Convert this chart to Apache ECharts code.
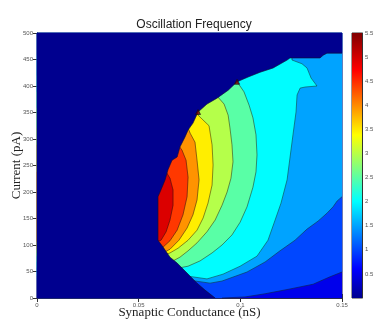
<!DOCTYPE html>
<html>
<head>
<meta charset="utf-8">
<script src="https://cdn.jsdelivr.net/npm/echarts@6/dist/echarts.min.js"></script>
<style>
    html, body { margin: 0; padding: 0; background: #fff; }
    #chart { width: 374px; height: 323px; }
</style>
</head>
<body>
<div id="chart"></div>
<script>
// contour lines, points are [conductance (nS), current (pA)]
const outerEdge = [
    [0.150, 462], [0.1426, 462], [0.1407, 458], [0.1392, 453], [0.1244, 453], [0.1230, 449],
    [0.1161, 434], [0.1097, 426], [0.1038, 417], [0.0984, 408], [0.0940, 392], [0.0885, 377],
    [0.0836, 366], [0.0792, 351], [0.0767, 330], [0.0743, 317], [0.0728, 304], [0.0703, 285],
    [0.0689, 266], [0.0664, 260], [0.0644, 242], [0.0630, 223], [0.0615, 209], [0.0595, 191],
    [0.0595, 109], [0.0620, 96], [0.0654, 77], [0.0689, 66], [0.0738, 47], [0.0787, 28],
    [0.0826, 15], [0.0876, 0],
]
const contour10 = [[0.0910, 0], [0.1023, 2], [0.1122, 8], [0.1244, 17], [0.1358, 26], [0.1441, 40], [0.150, 49]]
const contour15 = [
    [0.0743, 34], [0.0851, 28], [0.0910, 32], [0.1033, 49], [0.1122, 68], [0.1195, 89], [0.1269, 109],
    [0.1328, 130], [0.1382, 145], [0.1426, 160], [0.1456, 172], [0.1476, 183], [0.150, 191],
]
const contour20 = [
    [0.1254, 458], [0.1254, 449], [0.1303, 442], [0.1328, 434], [0.1348, 415], [0.1377, 400], [0.1318, 398],
    [0.1294, 396], [0.1279, 383], [0.1274, 351], [0.1259, 308], [0.1244, 264], [0.1230, 223], [0.1200, 179],
    [0.1171, 147], [0.1136, 109], [0.1082, 79], [0.0999, 60], [0.0915, 45], [0.0836, 36], [0.0728, 42],
]
const contour25 = [
    [0.0970, 420], [0.0984, 408], [0.1018, 389], [0.1043, 364], [0.1062, 340], [0.1077, 308], [0.1082, 270],
    [0.1077, 238], [0.1062, 209], [0.1033, 172], [0.0999, 143], [0.0959, 119], [0.0910, 100], [0.0861, 85],
    [0.0802, 70], [0.0743, 60], [0.0703, 57], [0.0664, 57],
]
const contour30 = [
    [0.0876, 389], [0.0890, 379], [0.0920, 366], [0.0940, 345], [0.0949, 321], [0.0959, 289], [0.0964, 257],
    [0.0954, 226], [0.0935, 200], [0.0910, 175], [0.0876, 147], [0.0836, 125], [0.0787, 104], [0.0743, 89],
    [0.0703, 77], [0.0669, 70], [0.0630, 68],
]
const contour35 = [
    [0.0782, 359], [0.0792, 345], [0.0846, 325], [0.0861, 289], [0.0866, 251], [0.0861, 213], [0.0841, 179],
    [0.0817, 151], [0.0787, 128], [0.0743, 109], [0.0694, 94], [0.0654, 85], [0.0615, 79],
]
const contour40 = [
    [0.0743, 321], [0.0753, 311], [0.0777, 294], [0.0787, 260], [0.0797, 223], [0.0787, 185], [0.0767, 157],
    [0.0738, 132], [0.0698, 109], [0.0654, 92], [0.0620, 85],
]
const contour45 = [
    [0.0694, 289], [0.0713, 279], [0.0733, 260], [0.0743, 228], [0.0738, 191], [0.0718, 157], [0.0689, 128],
    [0.0654, 108], [0.0620, 96], [0.0590, 92],
]
const contour50 = [
    [0.0635, 238], [0.0654, 226], [0.0669, 204], [0.0669, 175], [0.0654, 147], [0.0635, 125], [0.0610, 109],
    [0.0585, 106],
]
// little dark spikes on the upper edge
const spikes = [[0.0984, 408], [0.0792, 351]]

const xRange = [0, 0.15]
const yRange = [0, 500]
const colorRange = [0, 5.5]

const levelLines = [contour10, contour15, contour20, contour25, contour30, contour35, contour40, contour45, contour50]
// jet colours at levels 0.5 .. 5.0
const levelColors = ['#0000EB', '#0047FF', '#00A3FF', '#00FDFF', '#59FFA6', '#B5FF4A', '#FFEE00', '#FF9300', '#FF3800', '#DB0000']
const navy = '#00008F'

// polygon = area above / left of a contour line
function regionOf(line) {
    let pts = line.slice()
    let first = line[0]
    let last = line[line.length - 1]
    if (last[0] >= xRange[1]) {
        pts.push([xRange[1], yRange[1]], [xRange[0], yRange[1]], [xRange[0], first[1]])
    } else {
        pts.push([xRange[0], last[1]], [xRange[0], first[1]])
    }
    return pts
}

let fills = [{
    points: [[xRange[0], yRange[0]], [xRange[1], yRange[0]], [xRange[1], yRange[1]], [xRange[0], yRange[1]]],
    color: levelColors[0],
}]
levelLines.forEach(function (line, i) {
    fills.push({ points: regionOf(line), color: levelColors[i + 1] })
})
const mask = outerEdge.concat([[xRange[0], yRange[0]], [xRange[0], yRange[1]], [xRange[1], yRange[1]]])

function polygonItem(list, asLine) {
    return function (params, api) {
        let item = list[params.dataIndex]
        let pts = item.points.map(function (p) { return api.coord(p) })
        if (asLine) {
            return {
                type: 'polyline',
                shape: { points: pts },
                style: { fill: null, stroke: 'rgba(20,20,20,0.6)', lineWidth: 0.8 },
            }
        }
        return {
            type: 'polygon',
            shape: { points: pts },
            style: { fill: item.color, stroke: item.color, lineWidth: 0.3 },
        }
    }
}

const lineItems = levelLines.map(function (l) { return { points: l } })
const maskItems = [{ points: mask, color: navy }]
const edgeItems = [{ points: outerEdge }]

const tickColor = '#333'
const labelStyle = { fontSize: 6, color: '#555', fontFamily: 'Liberation Sans' }

const chart = echarts.init(document.getElementById('chart'))
chart.setOption({
    animation: false,
    title: {
        text: 'Oscillation Frequency',
        left: 189,
        top: 14,
        textAlign: 'center',
        textStyle: { fontSize: 12, fontWeight: 'normal', color: '#222', fontFamily: 'Liberation Sans' },
    },
    grid: [
        {
            left: 37, top: 33, width: 305, height: 265, outerBoundsMode: 'none', containLabel: false,
            show: true, borderColor: tickColor, borderWidth: 1, backgroundColor: 'transparent',
        },
        {
            left: 352, top: 33, width: 10, height: 265, outerBoundsMode: 'none', containLabel: false,
            show: true, borderColor: tickColor, borderWidth: 1,
        },
    ],
    xAxis: [
        {
            type: 'value', gridIndex: 0, min: xRange[0], max: xRange[1], interval: 0.05,
            name: 'Synaptic Conductance (nS)', nameLocation: 'middle', nameGap: 8, nameMoveOverlap: false,
            nameTextStyle: { fontFamily: 'Liberation Serif', fontSize: 13, color: '#222', verticalAlign: 'top' },
            axisLine: { show: true, lineStyle: { color: tickColor, width: 1 } },
            axisTick: { inside: true, length: 4, lineStyle: { color: tickColor } },
            axisLabel: Object.assign({ margin: 4 }, labelStyle),
            splitLine: { show: false },
        },
        {
            type: 'value', gridIndex: 0, position: 'top', min: xRange[0], max: xRange[1], interval: 0.05,
            axisLine: { show: true, lineStyle: { color: tickColor, width: 1 } },
            axisTick: { inside: true, length: 4, lineStyle: { color: tickColor } },
            axisLabel: { show: false },
            splitLine: { show: false },
        },
        {
            type: 'category', gridIndex: 1, data: [''],
            axisLine: { show: false }, axisTick: { show: false }, axisLabel: { show: false },
        },
    ],
    yAxis: [
        {
            type: 'value', gridIndex: 0, min: yRange[0], max: yRange[1], interval: 50,
            name: 'Current (pA)', nameLocation: 'middle', nameGap: 14, nameMoveOverlap: false,
            nameTextStyle: { fontFamily: 'Liberation Serif', fontSize: 13, color: '#222' },
            axisLine: { show: true, lineStyle: { color: tickColor, width: 1 } },
            axisTick: { inside: true, length: 4, lineStyle: { color: tickColor } },
            axisLabel: Object.assign({ margin: 4 }, labelStyle),
            splitLine: { show: false },
        },
        {
            type: 'value', gridIndex: 0, position: 'right', min: yRange[0], max: yRange[1], interval: 50,
            axisLine: { show: true, lineStyle: { color: tickColor, width: 1 } },
            axisTick: { inside: true, length: 4, lineStyle: { color: tickColor } },
            axisLabel: { show: false },
            splitLine: { show: false },
        },
        {
            type: 'value', gridIndex: 1, position: 'right', min: colorRange[0], max: colorRange[1], interval: 0.5,
            axisLine: { show: true, lineStyle: { color: tickColor, width: 1 } },
            axisTick: { inside: true, length: 2, lineStyle: { color: tickColor } },
            axisLabel: Object.assign({
                margin: 3,
                formatter: function (v) { return v === 0 ? '' : String(v) },
            }, labelStyle),
            splitLine: { show: false },
        },
    ],
    series: [
        {
            type: 'custom', xAxisIndex: 0, yAxisIndex: 0, silent: true,
            renderItem: polygonItem(fills, false),
            data: fills.map(function (f) { return f.points[0] }),
        },
        {
            type: 'custom', xAxisIndex: 0, yAxisIndex: 0, silent: true,
            renderItem: polygonItem(lineItems, true),
            data: lineItems.map(function (f) { return f.points[0] }),
        },
        {
            type: 'custom', xAxisIndex: 0, yAxisIndex: 0, silent: true,
            renderItem: polygonItem(maskItems, false),
            data: maskItems.map(function (f) { return f.points[0] }),
        },
        {
            type: 'custom', xAxisIndex: 0, yAxisIndex: 0, silent: true,
            renderItem: polygonItem(edgeItems, true),
            data: edgeItems.map(function (f) { return f.points[0] }),
        },
        {
            type: 'scatter', xAxisIndex: 0, yAxisIndex: 0, silent: true,
            symbol: 'triangle', symbolSize: 5,
            itemStyle: { color: '#7a0000', borderColor: '#111', borderWidth: 0.8 },
            data: spikes,
        },
        {
            type: 'bar', xAxisIndex: 2, yAxisIndex: 2, silent: true, barWidth: '100%',
            data: [colorRange[1]],
            itemStyle: {
                color: new echarts.graphic.LinearGradient(0, 1, 0, 0, [
                    { offset: 0, color: '#00008F' },
                    { offset: 0.11, color: '#0000FF' },
                    { offset: 0.365, color: '#00FFFF' },
                    { offset: 0.615, color: '#FFFF00' },
                    { offset: 0.86, color: '#FF0000' },
                    { offset: 1, color: '#800000' },
                ]),
            },
        },
    ],
})
</script>
</body>
</html>
